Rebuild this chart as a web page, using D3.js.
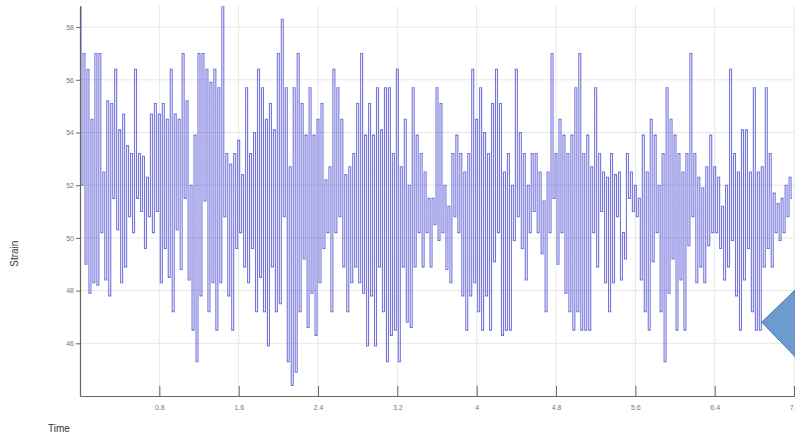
<!DOCTYPE html>
<html lang="en">
  <head>
    <meta charset="utf-8">
    <title>Strain vs Time</title>
    <script src="https://cdn.jsdelivr.net/npm/d3@7"></script>
    <style>
      body { margin: 0; background: #fff; }
      text { font-family: "Liberation Sans", Arial, sans-serif; }
    </style>
  </head>
  <body>
    <script type="text/javascript">
      // strain readings, one row per 0.8 s of the record (sampled every 0.02 s)
      var strain = [
        59.0,52.0, 57.0,49.0, 56.4,47.9, 54.5,48.3, 57.0,48.2, 57.0,50.2, 52.5,48.4, 55.2,47.8, 55.1,51.5, 56.4,50.3, 54.1,48.3, 54.7,48.9, 53.5,50.8, 53.2,50.2, 56.4,51.5, 53.2,51.0, 53.1,49.6, 52.3,50.8, 54.7,50.2, 55.1,51.0,
        54.7,48.3, 55.1,49.6, 54.5,48.5, 56.4,47.2, 54.7,50.3, 54.5,48.8, 57.0,51.5, 55.2,48.4, 52.0,46.5, 53.9,45.3, 57.0,47.8, 57.0,51.4, 56.4,47.2, 55.9,48.3, 56.4,46.5, 55.7,48.3, 59.0,50.8, 53.2,47.8, 52.8,46.5, 53.2,49.6,
        53.7,50.2, 52.4,48.9, 55.7,48.3, 53.2,49.6, 54.0,47.2, 56.4,48.5, 55.7,47.2, 54.5,45.9, 55.1,48.9, 54.1,47.2, 57.0,47.5, 58.3,50.8, 55.7,45.3, 52.7,44.4, 55.7,44.9, 57.0,47.2, 55.1,49.2, 53.9,46.6, 55.7,47.9, 53.9,46.3,
        54.5,48.3, 55.1,49.6, 52.2,50.2, 52.7,47.2, 56.4,50.2, 55.7,50.8, 54.5,48.9, 52.4,47.2, 52.7,48.3, 53.2,48.9, 55.1,48.3, 57.0,47.9, 53.9,45.9, 55.1,47.8, 53.9,45.9, 55.7,48.9, 54.1,47.2, 55.7,45.3, 55.7,46.3, 53.2,46.5,
        56.4,45.3, 52.7,48.9, 54.5,46.8, 52.0,46.6, 55.7,48.9, 53.9,50.2, 53.2,48.9, 52.5,50.2, 51.5,48.9, 51.5,50.5, 55.7,49.9, 55.1,50.2, 52.0,48.8, 51.2,48.3, 53.2,50.8, 53.9,50.2, 53.2,47.8, 52.5,46.5, 53.2,47.8, 56.4,48.3,
        54.5,47.2, 55.7,46.5, 54.0,47.8, 53.2,46.5, 55.1,49.1, 56.4,50.2, 55.1,46.3, 52.5,46.5, 53.2,46.5, 52.0,49.9, 56.4,50.8, 54.0,49.6, 53.2,48.4, 52.0,50.2, 53.2,51.0, 53.2,50.2, 52.5,49.4, 51.4,47.2, 52.5,50.2, 57.0,51.5,
        53.2,49.0, 54.5,50.2, 53.9,47.9, 53.2,47.2, 53.9,46.5, 55.7,47.2, 57.0,46.5, 53.2,46.5, 53.9,46.5, 52.7,50.2, 55.7,48.9, 53.2,51.0, 52.5,48.3, 52.3,47.2, 53.2,48.3, 52.4,50.8, 52.5,48.4, 50.2,49.2, 53.2,51.5, 52.5,51.0,
        52.0,50.8, 51.5,48.4, 53.9,47.2, 52.5,46.5, 54.5,49.1, 53.9,50.2, 52.0,47.2, 53.2,45.3, 55.7,47.9, 54.5,49.2, 53.9,46.5, 53.2,48.4, 52.5,46.5, 53.2,49.7, 57.0,50.8, 53.2,48.3, 52.3,48.9, 51.9,48.3, 52.7,49.7, 53.9,50.2,
        52.7,50.2, 52.3,49.6, 51.2,48.4, 52.0,48.9, 56.4,49.9, 53.2,47.8, 52.5,46.5, 54.1,48.4, 54.1,49.6, 52.5,47.2, 55.7,46.5, 52.5,46.5, 52.7,48.9, 55.7,49.6, 53.2,48.9, 51.7,50.2, 51.3,49.9, 51.5,50.2, 52.0,50.8, 52.3,51.5
      ];
      var sampleStep = 0.02;

      var xTicks = [0.8, 1.6, 2.4, 3.2, 4, 4.8, 5.6, 6.4, 7.2];
      var yTicks = [46, 48, 50, 52, 54, 56, 58];
      var xDomain = [0, 7.22];
      var yDomain = [44, 58.8];

      var w = 795, h = 436;
      var plotLeft = 80, plotBottom = 396, plotTop = 6, plotRight = 796;

      var xScale = d3.scaleLinear().domain(xDomain).range([plotLeft, plotRight]);
      var yScale = d3.scaleLinear().domain(yDomain).range([plotBottom, plotTop]);

      var svg = d3.select("body").append("svg")
        .attr("width", w)
        .attr("height", h);

      svg.append("defs").append("clipPath")
        .attr("id", "plot-clip")
        .append("rect")
        .attr("x", plotLeft)
        .attr("y", plotTop)
        .attr("width", plotRight - plotLeft)
        .attr("height", plotBottom - plotTop);

      // grid
      svg.append("g").selectAll("line")
        .data(xTicks)
        .enter().append("line")
        .attr("x1", function(d) { return xScale(d); })
        .attr("x2", function(d) { return xScale(d); })
        .attr("y1", plotTop)
        .attr("y2", plotBottom)
        .attr("stroke", "#e6e6e6")
        .attr("stroke-width", 1);

      svg.append("g").selectAll("line")
        .data(yTicks)
        .enter().append("line")
        .attr("x1", plotLeft)
        .attr("x2", plotRight)
        .attr("y1", function(d) { return yScale(d); })
        .attr("y2", function(d) { return yScale(d); })
        .attr("stroke", "#e6e6e6")
        .attr("stroke-width", 1);

      // the signal (held between samples, so it reads as vertical strokes)
      var line = d3.line()
        .curve(d3.curveStep)
        .x(function(d, i) { return xScale(i * sampleStep); })
        .y(function(d) { return yScale(d); });

      svg.append("path")
        .datum(strain)
        .attr("clip-path", "url(#plot-clip)")
        .attr("fill", "none")
        .attr("stroke", "#4646d2")
        .attr("stroke-width", 1.1)
        .attr("stroke-opacity", 0.75)
        .attr("d", line);

      // axes
      var xAxis = d3.axisBottom(xScale)
        .tickValues(xTicks)
        .tickFormat(d3.format(""))
        .tickSizeInner(-10)
        .tickSizeOuter(0)
        .tickPadding(9);

      var yAxis = d3.axisLeft(yScale)
        .tickValues(yTicks)
        .tickSizeInner(4)
        .tickSizeOuter(0)
        .tickPadding(2);

      var gx = svg.append("g")
        .attr("transform", "translate(0," + plotBottom + ")")
        .call(xAxis);

      var gy = svg.append("g")
        .attr("transform", "translate(" + plotLeft + ",0)")
        .call(yAxis);

      [gx, gy].forEach(function(g) {
        g.select(".domain").attr("stroke", "#666").attr("stroke-width", 1.2);
        g.selectAll(".tick line").attr("stroke", "#666");
        g.selectAll(".tick text")
          .attr("fill", "#777")
          .style("font-size", "7px")
          .style("font-family", "'Liberation Sans', Arial, sans-serif");
      });

      // axis titles
      svg.append("text")
        .attr("transform", "translate(18," + yScale(49.4) + ") rotate(-90)")
        .attr("text-anchor", "middle")
        .attr("fill", "#333")
        .style("font-size", "10px")
        .text("Strain");

      svg.append("text")
        .attr("x", 48)
        .attr("y", 432)
        .attr("fill", "#333")
        .style("font-size", "10px")
        .text("Time");

      // callout shape at the right edge, anchored on the scales
      var tipX = xScale(6.875), tipY = yScale(46.8);
      svg.append("polygon")
        .attr("points", [
          [tipX, tipY],
          [tipX + 60, tipY - 58],
          [tipX + 60, tipY + 62]
        ].map(function(p) { return p.join(","); }).join(" "))
        .attr("fill", "#6c9bd0")
        .attr("stroke", "#4a76a8")
        .attr("stroke-width", 1);
    </script>
  </body>
</html>
